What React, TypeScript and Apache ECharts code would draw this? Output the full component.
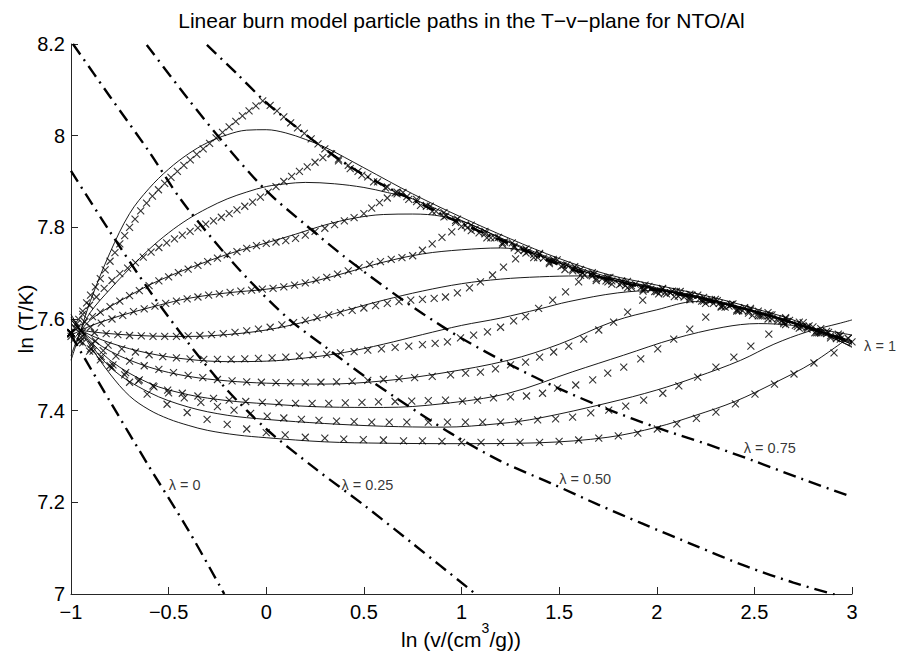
import React, { useEffect, useRef } from 'react';
import * as echarts from 'echarts';

// ---------- axes ----------
const xTicks = [-1, -0.5, 0, 0.5, 1, 1.5, 2, 2.5, 3];
const yTicks = [7, 7.2, 7.4, 7.6, 7.8, 8, 8.2];

const chartTitle = 'Linear burn model particle paths in the T\u2212v\u2212plane for NTO/Al';
const yTitle = 'ln (T/K)';
const xTitleParts = ['ln (v/(cm', '3', '/g))'];

// ---------- constant-lambda curves (dash-dot) ----------
const lambda0Line = [[-1, 7.565], [-0.8, 7.42], [-0.6, 7.278], [-0.4, 7.14], [-0.215, 7.0]];
const lambda025Line = [[-1, 7.923], [-0.8, 7.79], [-0.6, 7.663], [-0.4, 7.548], [-0.2, 7.445], [0, 7.36], [0.25, 7.274], [0.5, 7.194], [0.75, 7.11], [1.072, 7.0]];
const lambda050Line = [[-0.99, 8.2], [-0.8, 8.085], [-0.6, 7.965], [-0.44, 7.862], [-0.27, 7.772], [-0.1, 7.69], [0.115, 7.6], [0.3, 7.54], [0.5, 7.476], [0.7, 7.418], [0.944, 7.351], [1.2, 7.29], [1.456, 7.242], [1.7, 7.195], [1.918, 7.155], [2.2, 7.105], [2.467, 7.059], [2.7, 7.025], [2.918, 6.998]];
const lambda075Line = [[-0.612, 8.198], [-0.4, 8.08], [-0.2, 7.975], [0, 7.88], [0.2, 7.806], [0.4, 7.736], [0.6, 7.672], [0.8, 7.612], [1, 7.558], [1.25, 7.5], [1.5, 7.448], [1.75, 7.403], [2, 7.363], [2.25, 7.328], [2.5, 7.29], [2.75, 7.25], [3, 7.212]];
const lambda1Line = [[-0.304, 8.198], [-0.15, 8.135], [-0.015, 8.078], [0.087, 8.041], [0.174, 8.012], [0.292, 7.973], [0.431, 7.932], [0.549, 7.903], [0.687, 7.873], [0.826, 7.844], [0.959, 7.816], [1.236, 7.766], [1.574, 7.707], [1.918, 7.67], [2.262, 7.641], [2.6, 7.604], [2.8, 7.578], [3, 7.55]];

const lambdaLabels = [
  { name: '\u03bb = 0', value: [-0.5, 7.238] },
  { name: '\u03bb = 0.25', value: [0.385, 7.238] },
  { name: '\u03bb = 0.50', value: [1.5, 7.25] },
  { name: '\u03bb = 0.75', value: [2.446, 7.318] },
  { name: '\u03bb = 1', value: [3.062, 7.541] },
];

// ---------- model particle paths (solid) ----------
const pathASolid = [[-1, 7.51], [-0.95, 7.575], [-0.9, 7.64], [-0.8, 7.745], [-0.7, 7.83], [-0.6, 7.885], [-0.5, 7.927], [-0.4, 7.96], [-0.3, 7.985], [-0.2, 8.002], [-0.1, 8.012], [0, 8.013], [0.1, 8.006], [0.2, 7.992], [0.3, 7.975], [0.4, 7.953], [0.5, 7.93], [0.75, 7.873], [1, 7.822], [1.25, 7.775], [1.5, 7.732], [1.75, 7.697], [2, 7.674], [2.25, 7.651], [2.5, 7.623], [2.75, 7.59], [3, 7.538]];
const pathBSolid = [[-1, 7.52], [-0.95, 7.575], [-0.9, 7.615], [-0.8, 7.665], [-0.7, 7.71], [-0.6, 7.752], [-0.5, 7.788], [-0.4, 7.818], [-0.3, 7.842], [-0.2, 7.862], [-0.1, 7.877], [0, 7.889], [0.1, 7.895], [0.2, 7.898], [0.35, 7.895], [0.5, 7.887], [0.62, 7.876], [0.75, 7.862], [1, 7.815], [1.25, 7.768], [1.5, 7.726], [1.75, 7.692], [2, 7.668], [2.25, 7.646], [2.5, 7.618], [2.75, 7.586], [3, 7.545]];
const pathCSolid = [[-1, 7.548], [-0.95, 7.575], [-0.9, 7.598], [-0.8, 7.627], [-0.7, 7.651], [-0.6, 7.674], [-0.5, 7.693], [-0.4, 7.71], [-0.3, 7.726], [-0.2, 7.741], [-0.1, 7.754], [0, 7.766], [0.15, 7.785], [0.3, 7.805], [0.45, 7.82], [0.6, 7.828], [0.75, 7.829], [0.9, 7.824], [1.05, 7.806], [1.25, 7.766], [1.5, 7.722], [1.75, 7.688], [2, 7.665], [2.25, 7.643], [2.5, 7.616], [2.75, 7.584], [3, 7.548]];
const pathDSolid = [[-1, 7.565], [-0.95, 7.575], [-0.9, 7.585], [-0.8, 7.6], [-0.7, 7.613], [-0.55, 7.63], [-0.4, 7.645], [-0.2, 7.657], [0, 7.665], [0.2, 7.678], [0.4, 7.7], [0.6, 7.724], [0.8, 7.742], [1, 7.751], [1.2, 7.755], [1.35, 7.746], [1.5, 7.723], [1.75, 7.688], [2, 7.665], [2.25, 7.643], [2.5, 7.616], [2.75, 7.584], [3, 7.54]];
const pathESolid = [[-1, 7.578], [-0.95, 7.575], [-0.8, 7.568], [-0.6, 7.563], [-0.4, 7.562], [-0.2, 7.566], [0, 7.576], [0.2, 7.594], [0.4, 7.618], [0.6, 7.641], [0.8, 7.661], [1, 7.677], [1.2, 7.687], [1.4, 7.692], [1.6, 7.694], [1.75, 7.69], [1.9, 7.676], [2.05, 7.661], [2.25, 7.643], [2.5, 7.615], [2.75, 7.585], [3, 7.552]];
const pathFSolid = [[-1, 7.59], [-0.95, 7.575], [-0.8, 7.548], [-0.6, 7.525], [-0.4, 7.512], [-0.2, 7.507], [0, 7.508], [0.2, 7.515], [0.4, 7.527], [0.6, 7.545], [0.8, 7.566], [1, 7.586], [1.2, 7.602], [1.4, 7.622], [1.55, 7.638], [1.8, 7.657], [2, 7.662], [2.2, 7.65], [2.4, 7.628], [2.6, 7.604], [2.8, 7.578], [3, 7.545]];
const pathGSolid = [[-1, 7.6], [-0.95, 7.575], [-0.8, 7.53], [-0.6, 7.495], [-0.4, 7.475], [-0.2, 7.465], [0, 7.46], [0.3, 7.458], [0.6, 7.465], [0.9, 7.482], [1.24, 7.51], [1.5, 7.545], [1.78, 7.595], [2, 7.62], [2.2, 7.638], [2.4, 7.628], [2.6, 7.606], [2.8, 7.578], [3, 7.55]];
const pathHSolid = [[-1, 7.598], [-0.95, 7.575], [-0.8, 7.51], [-0.6, 7.46], [-0.4, 7.435], [-0.2, 7.422], [0, 7.415], [0.3, 7.408], [0.6, 7.407], [0.9, 7.415], [1.24, 7.438], [1.57, 7.485], [1.83, 7.521], [2.09, 7.557], [2.34, 7.582], [2.52, 7.59], [2.7, 7.586], [2.85, 7.576], [3, 7.565]];
const pathISolid = [[-1, 7.604], [-0.95, 7.575], [-0.8, 7.495], [-0.6, 7.44], [-0.4, 7.408], [-0.2, 7.39], [0, 7.381], [0.3, 7.372], [0.6, 7.366], [0.9, 7.364], [1.2, 7.372], [1.4, 7.384], [1.75, 7.417], [2, 7.445], [2.2, 7.473], [2.43, 7.51], [2.6, 7.545], [2.77, 7.572], [2.94, 7.591], [3, 7.598]];
const pathJSolid = [[-1, 7.61], [-0.95, 7.575], [-0.9, 7.54], [-0.8, 7.48], [-0.7, 7.432], [-0.6, 7.402], [-0.5, 7.382], [-0.4, 7.368], [-0.3, 7.357], [-0.15, 7.347], [0, 7.341], [0.3, 7.332], [0.6, 7.329], [1, 7.328], [1.4, 7.33], [1.75, 7.342], [2, 7.364], [2.2, 7.39], [2.4, 7.42], [2.6, 7.46], [2.8, 7.505], [3, 7.565]];

// ---------- computed particle positions (x markers) ----------
const pathAMarks = [[-1, 7.562], [-0.98, 7.58], [-0.96, 7.599], [-0.94, 7.617], [-0.92, 7.635], [-0.9, 7.652], [-0.875, 7.67], [-0.85, 7.688], [-0.825, 7.707], [-0.8, 7.726], [-0.775, 7.745], [-0.75, 7.764], [-0.725, 7.782], [-0.7, 7.8], [-0.672, 7.818], [-0.643, 7.836], [-0.613, 7.853], [-0.583, 7.868], [-0.552, 7.882], [-0.52, 7.896], [-0.488, 7.909], [-0.455, 7.922], [-0.422, 7.935], [-0.389, 7.947], [-0.356, 7.959], [-0.323, 7.971], [-0.29, 7.983], [-0.257, 7.995], [-0.224, 8.007], [-0.19, 8.019], [-0.156, 8.031], [-0.122, 8.043], [-0.088, 8.054], [-0.053, 8.065], [-0.018, 8.076],
  [0.02, 8.066], [0.055, 8.054], [0.09, 8.041], [0.125, 8.028], [0.16, 8.017], [0.195, 8.005], [0.23, 7.993], [0.265, 7.982], [0.3, 7.971], [0.335, 7.96], [0.37, 7.949], [0.42, 7.935], [0.47, 7.922], [0.52, 7.91], [0.57, 7.899], [0.62, 7.888], [0.67, 7.877], [0.72, 7.867], [0.77, 7.856], [0.82, 7.846], [0.87, 7.835], [0.92, 7.825], [0.97, 7.815], [1.02, 7.805], [1.07, 7.796], [1.12, 7.786], [1.17, 7.777], [1.22, 7.768], [1.27, 7.759], [1.32, 7.75], [1.37, 7.741], [1.42, 7.733], [1.47, 7.725], [1.52, 7.717], [1.57, 7.709], [1.62, 7.701], [1.67, 7.694], [1.72, 7.688], [1.77, 7.683], [1.82, 7.678], [1.87, 7.673], [1.92, 7.669], [1.97, 7.665], [2.02, 7.661], [2.07, 7.657], [2.12, 7.653], [2.17, 7.649], [2.22, 7.644], [2.27, 7.639], [2.32, 7.634], [2.37, 7.628], [2.42, 7.623], [2.47, 7.617], [2.52, 7.612], [2.57, 7.607], [2.62, 7.601], [2.67, 7.595], [2.72, 7.589], [2.77, 7.582], [2.82, 7.575], [2.87, 7.568]];
const pathBMarks = [[-1, 7.57], [-0.97, 7.59], [-0.94, 7.61], [-0.905, 7.63], [-0.87, 7.648], [-0.83, 7.667], [-0.79, 7.684], [-0.75, 7.699], [-0.71, 7.711], [-0.67, 7.723], [-0.63, 7.735], [-0.59, 7.746], [-0.55, 7.756], [-0.51, 7.766], [-0.47, 7.775], [-0.43, 7.783], [-0.39, 7.791], [-0.35, 7.799], [-0.31, 7.807], [-0.27, 7.814], [-0.23, 7.822], [-0.19, 7.83], [-0.15, 7.838], [-0.11, 7.846], [-0.07, 7.855], [-0.03, 7.866], [0.01, 7.877], [0.05, 7.889], [0.09, 7.9], [0.13, 7.911], [0.17, 7.922], [0.21, 7.932], [0.25, 7.942], [0.29, 7.952], [0.33, 7.961],
  [0.37, 7.945], [0.43, 7.928], [0.49, 7.914], [0.55, 7.899], [0.61, 7.886], [0.67, 7.873], [0.73, 7.861], [0.79, 7.848], [0.85, 7.835], [0.91, 7.823], [0.97, 7.811], [1.03, 7.799], [1.09, 7.788], [1.15, 7.777], [1.21, 7.766], [1.27, 7.755], [1.33, 7.744], [1.39, 7.734], [1.45, 7.724], [1.51, 7.715], [1.57, 7.705], [1.63, 7.696], [1.69, 7.688], [1.75, 7.681], [1.81, 7.675], [1.87, 7.669], [1.93, 7.664], [1.99, 7.66], [2.05, 7.655], [2.11, 7.65], [2.17, 7.645], [2.23, 7.639], [2.29, 7.634], [2.35, 7.626], [2.41, 7.62], [2.47, 7.613], [2.53, 7.607], [2.59, 7.6], [2.65, 7.593], [2.71, 7.586], [2.77, 7.578], [2.83, 7.57], [2.89, 7.563]];
const pathCMarks = [[-1, 7.568], [-0.965, 7.582], [-0.93, 7.594], [-0.89, 7.605], [-0.85, 7.615], [-0.8, 7.627], [-0.75, 7.639], [-0.7, 7.651], [-0.65, 7.662], [-0.6, 7.673], [-0.55, 7.683], [-0.5, 7.692], [-0.45, 7.701], [-0.4, 7.709], [-0.35, 7.717], [-0.3, 7.725], [-0.25, 7.733], [-0.2, 7.74], [-0.15, 7.747], [-0.1, 7.754], [-0.05, 7.76], [0, 7.765], [0.05, 7.768], [0.1, 7.771], [0.15, 7.776], [0.2, 7.783], [0.25, 7.791], [0.3, 7.798], [0.35, 7.806], [0.4, 7.814], [0.45, 7.821], [0.5, 7.83], [0.54, 7.842], [0.58, 7.854], [0.62, 7.864], [0.66, 7.875],
  [0.7, 7.876], [0.77, 7.861], [0.84, 7.846], [0.91, 7.832], [0.98, 7.818], [1.05, 7.805], [1.12, 7.791], [1.19, 7.778], [1.26, 7.766], [1.33, 7.753], [1.4, 7.741], [1.47, 7.73], [1.54, 7.718], [1.61, 7.708], [1.68, 7.698], [1.75, 7.69], [1.82, 7.683], [1.89, 7.676], [1.96, 7.671], [2.03, 7.665], [2.1, 7.66], [2.17, 7.654], [2.24, 7.647], [2.31, 7.64], [2.38, 7.632], [2.45, 7.625], [2.52, 7.617], [2.59, 7.609], [2.66, 7.601], [2.73, 7.593], [2.8, 7.583], [2.87, 7.573], [2.94, 7.564]];
const pathDMarks = [[-1, 7.567], [-0.95, 7.574], [-0.9, 7.582], [-0.845, 7.591], [-0.79, 7.6], [-0.735, 7.608], [-0.68, 7.616], [-0.625, 7.622], [-0.57, 7.628], [-0.515, 7.634], [-0.46, 7.639], [-0.405, 7.644], [-0.35, 7.648], [-0.295, 7.652], [-0.24, 7.655], [-0.185, 7.658], [-0.13, 7.661], [-0.075, 7.663], [-0.02, 7.665], [0.035, 7.667], [0.09, 7.67], [0.145, 7.674], [0.2, 7.679], [0.255, 7.685], [0.31, 7.691], [0.365, 7.698], [0.42, 7.705], [0.475, 7.712], [0.53, 7.719], [0.585, 7.725], [0.64, 7.73], [0.695, 7.734], [0.75, 7.738], [0.8, 7.75], [0.85, 7.764], [0.9, 7.778], [0.95, 7.79], [1, 7.802],
  [1.05, 7.793], [1.13, 7.777], [1.21, 7.763], [1.29, 7.749], [1.37, 7.734], [1.45, 7.721], [1.53, 7.708], [1.61, 7.695], [1.69, 7.684], [1.77, 7.676], [1.85, 7.668], [1.93, 7.661], [2.01, 7.655], [2.09, 7.649], [2.17, 7.642], [2.25, 7.634], [2.33, 7.626], [2.41, 7.617], [2.49, 7.608], [2.57, 7.6], [2.65, 7.59], [2.73, 7.58], [2.81, 7.57], [2.89, 7.559]];
const pathEMarks = [[-1, 7.568], [-0.94, 7.572], [-0.88, 7.57], [-0.82, 7.568], [-0.76, 7.566], [-0.7, 7.564], [-0.64, 7.563], [-0.58, 7.562], [-0.52, 7.562], [-0.46, 7.562], [-0.4, 7.563], [-0.34, 7.564], [-0.28, 7.566], [-0.22, 7.568], [-0.16, 7.571], [-0.1, 7.574], [-0.04, 7.578], [0.02, 7.582], [0.08, 7.587], [0.14, 7.592], [0.2, 7.597], [0.26, 7.603], [0.32, 7.609], [0.38, 7.614], [0.44, 7.619], [0.5, 7.624], [0.56, 7.629], [0.62, 7.634], [0.68, 7.638], [0.74, 7.641], [0.8, 7.643], [0.86, 7.645], [0.918, 7.648], [0.979, 7.657], [1.041, 7.668], [1.097, 7.681], [1.159, 7.696], [1.215, 7.713], [1.277, 7.731], [1.34, 7.747],
  [1.4, 7.743], [1.49, 7.729], [1.58, 7.714], [1.67, 7.701], [1.76, 7.691], [1.85, 7.682], [1.94, 7.674], [2.03, 7.667], [2.12, 7.66], [2.21, 7.652], [2.3, 7.643], [2.39, 7.633], [2.48, 7.623], [2.57, 7.614], [2.66, 7.603], [2.75, 7.592], [2.84, 7.579], [2.93, 7.567]];
const pathFMarks = [[-1, 7.57], [-0.94, 7.562], [-0.875, 7.552], [-0.81, 7.543], [-0.74, 7.535], [-0.67, 7.528], [-0.6, 7.522], [-0.53, 7.518], [-0.46, 7.515], [-0.39, 7.513], [-0.32, 7.512], [-0.25, 7.512], [-0.18, 7.512], [-0.11, 7.513], [-0.04, 7.514], [0.03, 7.515], [0.1, 7.517], [0.17, 7.519], [0.24, 7.521], [0.31, 7.523], [0.38, 7.526], [0.45, 7.529], [0.52, 7.532], [0.59, 7.535], [0.66, 7.538], [0.73, 7.541], [0.8, 7.544], [0.865, 7.547], [0.928, 7.55], [0.995, 7.559], [1.062, 7.565], [1.133, 7.572], [1.2, 7.582], [1.267, 7.596], [1.328, 7.605], [1.395, 7.623], [1.467, 7.641], [1.533, 7.659], [1.6, 7.681], [1.667, 7.697],
  [1.74, 7.683], [1.84, 7.673], [1.94, 7.665], [2.04, 7.657], [2.14, 7.648], [2.24, 7.639], [2.34, 7.628], [2.44, 7.618], [2.54, 7.607], [2.64, 7.596], [2.74, 7.583], [2.84, 7.569], [2.94, 7.556]];
const pathGMarks = [[-1, 7.57], [-0.95, 7.56], [-0.895, 7.545], [-0.835, 7.531], [-0.77, 7.519], [-0.7, 7.508], [-0.625, 7.498], [-0.55, 7.49], [-0.475, 7.483], [-0.4, 7.477], [-0.325, 7.472], [-0.25, 7.468], [-0.175, 7.465], [-0.1, 7.463], [-0.025, 7.462], [0.05, 7.461], [0.125, 7.461], [0.2, 7.461], [0.28, 7.462], [0.36, 7.463], [0.44, 7.464], [0.52, 7.466], [0.6, 7.468], [0.68, 7.47], [0.76, 7.472], [0.85, 7.475], [0.944, 7.478], [1.021, 7.482], [1.097, 7.484], [1.174, 7.491], [1.251, 7.5], [1.328, 7.506], [1.4, 7.517], [1.472, 7.528], [1.549, 7.541], [1.626, 7.556], [1.703, 7.576], [1.779, 7.593], [1.851, 7.615], [1.928, 7.641], [2, 7.66],
  [2.08, 7.661], [2.18, 7.652], [2.28, 7.642], [2.38, 7.631], [2.48, 7.62], [2.58, 7.609], [2.68, 7.597], [2.78, 7.585], [2.88, 7.571], [2.98, 7.558]];
const pathHMarks = [[-1, 7.57], [-0.955, 7.55], [-0.905, 7.53], [-0.85, 7.511], [-0.79, 7.494], [-0.725, 7.478], [-0.655, 7.465], [-0.58, 7.454], [-0.505, 7.445], [-0.43, 7.438], [-0.35, 7.432], [-0.27, 7.427], [-0.19, 7.423], [-0.105, 7.42], [-0.02, 7.418], [0.065, 7.417], [0.15, 7.416], [0.235, 7.416], [0.32, 7.416], [0.405, 7.417], [0.49, 7.418], [0.575, 7.419], [0.66, 7.42], [0.745, 7.421], [0.83, 7.422], [0.918, 7.423], [1.005, 7.421], [1.082, 7.423], [1.164, 7.428], [1.251, 7.43], [1.333, 7.432], [1.415, 7.438], [1.492, 7.449], [1.585, 7.456], [1.672, 7.467], [1.749, 7.482], [1.831, 7.495], [1.918, 7.513], [2.005, 7.535], [2.087, 7.556], [2.169, 7.578], [2.251, 7.604], [2.33, 7.628],
  [2.42, 7.618], [2.52, 7.607], [2.62, 7.596], [2.72, 7.584], [2.82, 7.57], [2.92, 7.557]];
const pathIMarks = [[-1, 7.57], [-0.95, 7.552], [-0.9, 7.535], [-0.845, 7.518], [-0.785, 7.5], [-0.72, 7.483], [-0.65, 7.467], [-0.575, 7.452], [-0.5, 7.439], [-0.42, 7.428], [-0.335, 7.418], [-0.25, 7.409], [-0.165, 7.401], [-0.08, 7.394], [0.005, 7.388], [0.09, 7.384], [0.18, 7.381], [0.27, 7.379], [0.36, 7.377], [0.45, 7.376], [0.54, 7.375], [0.63, 7.375], [0.72, 7.375], [0.83, 7.375], [0.928, 7.375], [1.02, 7.375], [1.108, 7.375], [1.2, 7.375], [1.292, 7.376], [1.39, 7.38], [1.482, 7.382], [1.569, 7.386], [1.662, 7.395], [1.754, 7.401], [1.841, 7.41], [1.933, 7.423], [2.031, 7.438], [2.113, 7.454], [2.21, 7.473], [2.303, 7.495], [2.395, 7.517], [2.482, 7.541], [2.574, 7.567], [2.66, 7.588], [2.75, 7.584], [2.84, 7.573], [2.93, 7.562]];
const pathJMarks = [[-1, 7.57], [-0.94, 7.548], [-0.887, 7.53], [-0.8, 7.498], [-0.7, 7.462], [-0.61, 7.436], [-0.508, 7.414], [-0.405, 7.396], [-0.303, 7.381], [-0.2, 7.37], [-0.1, 7.36], [0, 7.352], [0.097, 7.347], [0.2, 7.342], [0.3, 7.34], [0.397, 7.338], [0.497, 7.337], [0.6, 7.336], [0.703, 7.334], [0.8, 7.334], [0.9, 7.333], [1, 7.331], [1.1, 7.331], [1.2, 7.331], [1.3, 7.331], [1.4, 7.331], [1.5, 7.333], [1.6, 7.336], [1.703, 7.34], [1.803, 7.345], [1.903, 7.351], [2.003, 7.36], [2.103, 7.371], [2.203, 7.383], [2.303, 7.397], [2.403, 7.415], [2.503, 7.436], [2.603, 7.458], [2.703, 7.48], [2.805, 7.504], [2.908, 7.526], [3, 7.55]];

const modelPaths = [pathASolid, pathBSolid, pathCSolid, pathDSolid, pathESolid, pathFSolid, pathGSolid, pathHSolid, pathISolid, pathJSolid];
const markPaths = [pathAMarks, pathBMarks, pathCMarks, pathDMarks, pathEMarks, pathFMarks, pathGMarks, pathHMarks, pathIMarks, pathJMarks];
const lambdaLines = [lambda0Line, lambda025Line, lambda050Line, lambda075Line, lambda1Line];

const FONT = '"Liberation Sans", Arial, Helvetica, sans-serif';
const AXIS_COLOR = '#262626';
const CROSS = 'path://M0,0L10,10M10,0L0,10';

const fmt = (v: number) => {
  const r = parseFloat(v.toFixed(2));
  return r < 0 ? '\u2212' + Math.abs(r) : String(r);
};

export default function App() {
  const ref = useRef<HTMLDivElement>(null);

  useEffect(() => {
    if (!ref.current) return;
    const chart = echarts.init(ref.current, null, { renderer: 'svg' });

    const series: any[] = [];
    modelPaths.forEach((d, i) => {
      series.push({
        type: 'line',
        name: 'model' + i,
        data: d,
        showSymbol: false,
        symbol: 'none',
        smooth: 0.35,
        silent: true,
        z: 2,
        lineStyle: { color: '#000', width: 0.9 },
      });
    });
    lambdaLines.forEach((d, i) => {
      series.push({
        type: 'line',
        name: 'lambda' + i,
        data: d,
        showSymbol: false,
        symbol: 'none',
        smooth: 0.3,
        silent: true,
        z: 3,
        lineStyle: { color: '#000', width: 2.4, type: [13, 6, 2, 6], cap: 'butt' },
      });
    });
    markPaths.forEach((d, i) => {
      series.push({
        type: 'scatter',
        name: 'marks' + i,
        data: d,
        symbol: CROSS,
        symbolSize: 7,
        silent: true,
        z: 4,
        itemStyle: { color: '#000', borderColor: '#000', borderWidth: 1.1 },
      });
    });
    series.push({
      type: 'scatter',
      name: 'labels',
      data: lambdaLabels,
      symbolSize: 0,
      clip: false,
      silent: true,
      z: 5,
      label: {
        show: true,
        position: 'right',
        distance: 0,
        formatter: '{b}',
        color: '#000',
        fontSize: 14.5,
        fontFamily: FONT,
      },
    });

    const option: any = {
      animation: false,
      backgroundColor: '#fff',
      grid: { left: 71, top: 44, right: 45, bottom: 60, containLabel: false },
      xAxis: {
        type: 'value',
        min: xTicks[0],
        max: xTicks[xTicks.length - 1],
        interval: 0.5,
        axisLine: { show: true, onZero: false, lineStyle: { color: AXIS_COLOR, width: 1 } },
        axisTick: { show: true, inside: true, length: 7, lineStyle: { color: AXIS_COLOR } },
        splitLine: { show: false },
        axisLabel: {
          show: true,
          margin: 8,
          color: '#000',
          fontSize: 20,
          fontFamily: FONT,
          showMinLabel: true,
          showMaxLabel: true,
          formatter: (v: number) => fmt(v),
        },
      },
      yAxis: {
        type: 'value',
        min: yTicks[0],
        max: yTicks[yTicks.length - 1],
        interval: 0.2,
        axisLine: { show: true, onZero: false, lineStyle: { color: AXIS_COLOR, width: 1 } },
        axisTick: { show: true, inside: true, length: 7, lineStyle: { color: AXIS_COLOR } },
        splitLine: { show: false },
        axisLabel: {
          show: true,
          margin: 6,
          color: '#000',
          fontSize: 20,
          fontFamily: FONT,
          showMinLabel: true,
          showMaxLabel: true,
          formatter: (v: number) => fmt(v),
        },
      },
      graphic: {
        elements: [
          {
            type: 'text',
            x: 461.5,
            y: 20,
            silent: true,
            style: {
              text: chartTitle,
              fill: '#000',
              font: '21px ' + FONT,
              textAlign: 'center',
              textVerticalAlign: 'middle',
            },
          },
          {
            type: 'text',
            x: 25,
            y: 319,
            rotation: Math.PI / 2,
            silent: true,
            style: {
              text: yTitle,
              fill: '#000',
              font: '21px ' + FONT,
              textAlign: 'center',
              textVerticalAlign: 'middle',
            },
          },
          {
            type: 'text',
            x: 401,
            y: 639,
            silent: true,
            style: {
              text: xTitleParts[0],
              fill: '#000',
              font: '21px ' + FONT,
              textAlign: 'left',
              textVerticalAlign: 'middle',
            },
          },
          {
            type: 'text',
            x: 481.5,
            y: 628,
            silent: true,
            style: {
              text: xTitleParts[1],
              fill: '#000',
              font: '14px ' + FONT,
              textAlign: 'left',
              textVerticalAlign: 'middle',
            },
          },
          {
            type: 'text',
            x: 489.5,
            y: 639,
            silent: true,
            style: {
              text: xTitleParts[2],
              fill: '#000',
              font: '21px ' + FONT,
              textAlign: 'left',
              textVerticalAlign: 'middle',
            },
          },
        ],
      },
      series,
    };

    chart.setOption(option);
    return () => {
      chart.dispose();
    };
  }, []);

  return (
    <div
      ref={ref}
      style={{ position: 'absolute', left: 0, top: 0, width: 897, height: 654, background: '#fff' }}
    />
  );
}
